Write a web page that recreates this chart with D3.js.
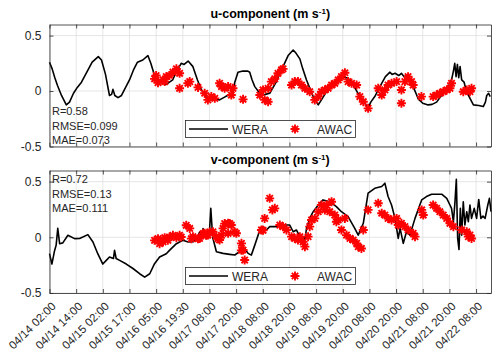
<!DOCTYPE html>
<html>
<head>
<meta charset="utf-8">
<script src="https://cdn.jsdelivr.net/npm/d3@7"></script>
<style>
  body { margin: 0; background: #fff; }
  text { font-family: "Liberation Sans", Arial, sans-serif; }
</style>
</head>
<body>
<div id="chart-area"></div>
<script>

// tick labels on the x axis (one per tick index)
var tickLabels = ["04/14 02:00", "04/14 14:00", "04/15 02:00", "04/15 17:00", "04/16 05:00",
    "04/16 19:30", "04/17 08:00", "04/17 20:00", "04/18 08:00", "04/18 20:00", "04/19 08:00",
    "04/19 20:00", "04/20 08:00", "04/20 20:00", "04/21 08:00", "04/21 20:00", "04/22 08:00"];

var yTicks = [-0.5, 0, 0.5];

// u-component, [tick position, value]
var uWera = [[0,0.26],[0.1,0.2],[0.2,0.12],[0.3,0.05],[0.45,-0.04],[0.63,-0.125],[0.75,-0.1],
    [0.9,-0.02],[1.05,0.035],[1.2,0.08],[1.4,0.17],[1.6,0.26],[1.83,0.31],[1.95,0.28],[2.1,0.15],
    [2.25,-0.04],[2.33,-0.03],[2.38,0.015],[2.45,-0.04],[2.57,-0.06],[2.7,-0.04],[2.85,0.03],
    [3.0,0.1],[3.15,0.19],[3.3,0.26],[3.5,0.28],[3.69,0.32],[3.8,0.25],[3.94,0.14],[4.1,0.09],
    [4.25,0.07],[4.38,0.06],[4.5,0.08],[4.62,0.1],[4.75,0.17],[4.94,0.25],[5.05,0.24],[5.2,0.27],
    [5.38,0.22],[5.55,0.1],[5.7,0.01],[5.94,-0.08],[6.15,-0.07],[6.38,-0.08],[6.6,-0.05],
    [6.88,-0.02],[6.95,0.08],[7.07,0.17],[7.25,0.18],[7.44,0.18],[7.51,0.17],[7.6,0.1],[7.7,0.04],
    [7.95,-0.04],[8.1,-0.03],[8.26,-0.02],[8.5,0.08],[8.76,0.22],[8.95,0.32],[9.14,0.37],
    [9.25,0.34],[9.39,0.29],[9.5,0.2],[9.64,0.1],[9.89,-0.05],[10.08,-0.125],[10.2,-0.08],
    [10.4,0.0],[10.64,0.07],[10.85,0.1],[11.01,0.13],[11.15,0.12],[11.27,0.1],[11.45,0.03],
    [11.64,-0.05],[11.8,-0.1],[11.95,-0.155],[12.05,-0.1],[12.2,-0.05],[12.46,0.07],[12.6,0.13],
    [12.77,0.17],[12.85,0.15],[12.96,0.16],[13.1,0.14],[13.2,0.16],[13.3,0.13],[13.45,0.14],
    [13.64,0.04],[13.83,-0.07],[14.0,-0.11],[14.2,-0.125],[14.35,-0.12],[14.52,-0.1],[14.7,-0.04],
    [14.83,0.01],[15.0,0.06],[15.08,0.1],[15.15,0.18],[15.2,0.25],[15.25,0.13],[15.3,0.24],
    [15.35,0.12],[15.4,0.22],[15.46,0.1],[15.55,0.08],[15.65,-0.01],[15.9,-0.125],[16.1,-0.13],
    [16.27,-0.14],[16.35,-0.1],[16.4,-0.04],[16.47,-0.02],[16.53,-0.05]];

var uAwac = [[3.94,0.11],[4.07,0.075],[4.0,0.14],[4.26,0.1],[4.38,0.13],[4.5,0.14],[4.63,0.17],
    [4.76,0.2],[4.88,0.16],[4.32,0.085],[4.88,0.025],[5.19,0.07],[5.26,0.085],[5.57,0.033],
    [5.82,-0.02],[5.94,-0.08],[6.07,-0.05],[6.2,-0.066],[6.38,0.07],[6.45,0.04],[6.57,0.025],
    [6.7,0.04],[6.88,0.025],[6.82,-0.036],[7.26,-0.075],[7.89,-0.036],[8.07,-0.08],[8.2,-0.096],
    [8.01,0.01],[8.2,0.025],[8.32,0.085],[8.45,0.11],[8.57,0.16],[8.7,0.19],[8.76,0.2],
    [9.08,0.054],[9.2,0.085],[9.32,0.085],[9.45,0.054],[9.58,0.025],[9.76,-0.006],[9.95,-0.08],
    [10.08,-0.05],[10.2,-0.006],[10.33,0.01],[10.45,0.025],[10.58,0.054],[10.7,0.07],[10.83,0.1],
    [10.95,0.13],[11.08,0.165],[11.2,0.085],[11.33,0.07],[11.52,0.054],[11.64,-0.05],
    [11.77,-0.096],[11.95,-0.156],[12.33,0.025],[12.46,-0.036],[12.58,0.01],[12.7,0.054],
    [12.83,0.07],[13.02,0.085],[13.2,0.01],[13.2,-0.11],[13.33,0.085],[13.45,0.13],[13.58,0.085],
    [13.64,0.054],[13.95,-0.05],[14.39,-0.05],[14.52,-0.036],[14.64,-0.02],[14.77,-0.006],
    [14.9,0.01],[15.02,0.025],[15.08,0.07],[15.52,-0.006],[15.65,0.01],[15.77,-0.006],[15.83,0.025]];

// v-component, [tick position, value]
var vWera = [[0,-0.147],[0.09,-0.24],[0.19,-0.12],[0.25,-0.07],[0.31,0.08],[0.38,-0.057],
    [0.5,-0.05],[0.69,0.018],[0.94,-0.012],[1.13,-0.01],[1.44,0.024],[1.63,-0.042],[1.81,-0.147],
    [2.0,-0.24],[2.13,-0.207],[2.25,-0.177],[2.4,-0.19],[2.44,-0.117],[2.5,-0.19],[2.63,-0.207],
    [2.88,-0.24],[3.13,-0.28],[3.38,-0.327],[3.57,-0.357],[3.76,-0.327],[3.94,-0.237],
    [4.13,-0.177],[4.38,-0.147],[4.5,-0.117],[4.76,-0.057],[5.0,-0.027],[5.2,-0.042],[5.4,-0.04],
    [5.55,0.0],[5.63,0.048],[5.7,0.0],[5.76,0.078],[5.88,-0.012],[6.0,0.05],[6.05,0.26],
    [6.12,0.0],[6.26,-0.129],[6.51,-0.144],[6.76,-0.153],[6.95,-0.159],[7.13,-0.129],[7.32,-0.1],
    [7.45,-0.144],[7.57,-0.16],[7.7,-0.07],[7.89,0.066],[8.01,0.096],[8.14,0.066],[8.26,0.096],
    [8.51,0.096],[8.76,0.11],[9.01,0.11],[9.14,0.05],[9.26,0.066],[9.39,0.006],[9.51,0.006],
    [9.58,-0.024],[9.64,0.08],[9.76,0.17],[9.89,0.23],[10.08,0.29],[10.26,0.336],[10.51,0.32],
    [10.76,0.276],[10.95,0.23],[11.2,0.186],[11.45,0.08],[11.58,0.02],[11.77,0.126],[11.95,0.396],
    [12.2,0.44],[12.46,0.456],[12.58,0.486],[12.7,0.366],[12.83,0.29],[12.96,0.17],[13.08,-0.01],
    [13.15,0.08],[13.27,-0.054],[13.39,0.05],[13.52,0.02],[13.71,0.17],[13.89,0.29],[13.96,0.336],
    [14.14,0.366],[14.33,0.387],[14.71,0.387],[14.9,0.35],[15.02,0.29],[15.08,0.26],[15.15,0.14],
    [15.21,0.32],[15.26,0.52],[15.31,-0.01],[15.36,-0.11],[15.41,0.26],[15.46,0.02],[15.52,0.32],
    [15.58,0.11],[15.65,0.23],[15.71,0.14],[15.77,0.29],[15.83,0.17],[15.93,0.26],[16.02,0.17],
    [16.1,0.34],[16.18,0.17],[16.26,0.19],[16.34,0.17],[16.44,0.29],[16.5,0.35],[16.56,0.23]];

var vAwac = [[3.94,-0.027],[4.07,-0.012],[4.13,-0.057],[4.26,-0.042],[4.32,-0.003],[4.44,-0.027],
    [4.5,0.003],[4.63,0.018],[4.76,-0.003],[4.88,0.018],[4.94,0.003],[5.13,0.108],[5.26,0.08],
    [5.32,-0.012],[5.38,0.006],[5.57,-0.012],[5.63,-0.01],[5.76,0.033],[5.82,0.036],[5.88,0.018],
    [5.94,0.02],[6.01,0.048],[6.13,0.05],[6.26,0.006],[6.32,-0.012],[6.38,-0.024],[6.45,0.018],
    [6.51,0.08],[6.57,0.123],[6.7,0.126],[6.7,0.036],[6.76,0.123],[6.82,0.11],[6.95,0.048],
    [7.01,0.036],[7.2,-0.054],[7.2,-0.117],[7.26,-0.114],[7.32,-0.204],[7.95,0.066],[8.01,0.063],
    [8.07,0.17],[8.26,0.35],[8.36,0.246],[8.45,0.26],[8.64,0.11],[8.76,0.096],[8.89,0.066],
    [9.08,0.006],[9.2,-0.01],[9.32,-0.024],[9.39,0.006],[9.51,-0.04],[9.58,-0.084],[9.7,0.006],
    [9.76,0.096],[9.83,0.156],[9.95,0.17],[10.08,0.23],[10.2,0.29],[10.33,0.246],[10.39,0.29],
    [10.51,0.23],[10.58,0.32],[10.7,0.2],[10.76,0.14],[10.83,0.156],[10.95,0.066],[11.08,0.17],
    [11.14,0.02],[11.27,-0.01],[11.39,-0.024],[11.52,-0.054],[11.58,-0.084],[11.7,-0.1],
    [11.77,0.066],[11.95,0.246],[12.33,0.306],[12.46,0.216],[12.58,0.2],[12.7,0.17],[12.83,0.156],
    [13.02,0.17],[13.08,0.11],[13.2,0.126],[13.33,0.096],[13.45,0.066],[13.64,0.036],[13.71,0.006],
    [13.96,0.246],[14.02,0.2],[14.39,0.29],[14.52,0.26],[14.64,0.23],[14.77,0.2],[14.9,0.17],
    [15.02,0.126],[15.15,0.096],[15.46,0.066],[15.65,0.05],[15.71,0.006],[15.77,0.02],[15.83,-0.01]];

var panels = [
    {name: "u-component", wera: uWera, awac: uAwac, stats: ["R=0.58", "RMSE=0.099", "MAE=0.073"],
     top: 24.5, bottom: 146.5, statsY: 115, legendY: 129},
    {name: "v-component", wera: vWera, awac: vAwac, stats: ["R=0.72", "RMSE=0.13", "MAE=0.111"],
     top: 170.5, bottom: 293, statsY: 183, legendY: 276}
];

var width = 500, height = 363;
var left = 49.5, right = 491;
var axisColor = "#262626", gridColor = "#dfdfdf";

var svg = d3.select("#chart-area").append("svg")
    .attr("width", width)
    .attr("height", height);

var x = d3.scaleLinear()
    .domain([0, 16.56])
    .range([left, right]);

// MATLAB style '*' marker
function star(r) {
    var d = r * 0.7071;
    return "M" + (-r) + ",0H" + r + "M0," + (-r) + "V" + r +
        "M" + (-d) + "," + (-d) + "L" + d + "," + d +
        "M" + (-d) + "," + d + "L" + d + "," + (-d);
}

panels.forEach(function(p, pi) {
    var y = d3.scaleLinear()
        .domain([-0.5, 0.6])
        .range([p.bottom, p.top]);

    var g = svg.append("g");

    // grid
    g.selectAll(".xgrid")
        .data(d3.range(tickLabels.length))
        .enter().append("line")
        .attr("x1", function(d) { return x(d); })
        .attr("x2", function(d) { return x(d); })
        .attr("y1", p.top)
        .attr("y2", p.bottom)
        .attr("stroke", gridColor)
        .attr("stroke-width", 0.8);

    g.selectAll(".ygrid")
        .data(yTicks)
        .enter().append("line")
        .attr("x1", left)
        .attr("x2", right)
        .attr("y1", function(d) { return y(d); })
        .attr("y2", function(d) { return y(d); })
        .attr("stroke", gridColor)
        .attr("stroke-width", 0.8);

    // WERA line
    var line = d3.line()
        .x(function(d) { return x(d[0]); })
        .y(function(d) { return y(d[1]); });

    g.append("path")
        .datum(p.wera)
        .attr("d", line)
        .attr("fill", "none")
        .attr("stroke", "#000")
        .attr("stroke-width", 1.6)
        .attr("stroke-linejoin", "round");

    // AWAC markers
    g.selectAll(".awac")
        .data(p.awac)
        .enter().append("path")
        .attr("d", star(4.5))
        .attr("transform", function(d) { return "translate(" + x(d[0]) + "," + y(d[1]) + ")"; })
        .attr("fill", "none")
        .attr("stroke", "#ff0000")
        .attr("stroke-width", 1.9);

    // axes (ticks inside, box on)
    var xAxisB = d3.axisBottom(x).tickValues(d3.range(tickLabels.length))
        .tickSizeInner(-4).tickSizeOuter(0).tickFormat("");
    var xAxisT = d3.axisTop(x).tickValues(d3.range(tickLabels.length))
        .tickSizeInner(-4).tickSizeOuter(0).tickFormat("");
    var yAxisL = d3.axisLeft(y).tickValues(yTicks).tickSizeInner(-4).tickSizeOuter(0)
        .tickPadding(8).tickFormat(function(d) { return d === 0 ? "0" : d; });
    var yAxisR = d3.axisRight(y).tickValues(yTicks).tickSizeInner(-4).tickSizeOuter(0).tickFormat("");

    var axes = [
        g.append("g").attr("transform", "translate(0," + p.bottom + ")").call(xAxisB),
        g.append("g").attr("transform", "translate(0," + p.top + ")").call(xAxisT),
        g.append("g").attr("transform", "translate(" + left + ",0)").call(yAxisL),
        g.append("g").attr("transform", "translate(" + right + ",0)").call(yAxisR)
    ];
    axes.forEach(function(a) {
        a.select(".domain").attr("stroke", axisColor).attr("stroke-width", 0.8);
        a.selectAll(".tick line").attr("stroke", axisColor).attr("stroke-width", 0.8);
        a.selectAll(".tick text").attr("fill", axisColor)
            .style("font-size", "12px").style("font-family", "'Liberation Sans', Arial, sans-serif");
    });

    // title
    var title = g.append("text")
        .attr("x", (left + right) / 2)
        .attr("y", p.top - 7)
        .attr("text-anchor", "middle")
        .attr("fill", "#000")
        .style("font-size", "12.5px")
        .style("font-weight", "bold");
    title.append("tspan").text(p.name + " (m s");
    title.append("tspan").attr("dy", -4).style("font-size", "8px").text("-1");
    title.append("tspan").attr("dy", 4).text(")");

    // stats text
    g.selectAll(".stat")
        .data(p.stats)
        .enter().append("text")
        .attr("x", 52)
        .attr("y", function(d, i) { return p.statsY + i * 14.5; })
        .attr("fill", axisColor)
        .style("font-size", "11px")
        .text(function(d) { return d; });

    // legend
    var lg = g.append("g").attr("transform", "translate(0," + p.legendY + ")");
    lg.append("rect")
        .attr("x", 185.5).attr("y", -8.5)
        .attr("width", 170).attr("height", 17)
        .attr("fill", "#fff")
        .attr("stroke", axisColor)
        .attr("stroke-width", 0.8);
    lg.append("line")
        .attr("x1", 189).attr("x2", 228)
        .attr("y1", 0).attr("y2", 0)
        .attr("stroke", "#000").attr("stroke-width", 1.6);
    lg.append("text")
        .attr("x", 232).attr("y", 4.5)
        .attr("fill", axisColor)
        .style("font-size", "12px")
        .text("WERA");
    lg.append("path")
        .attr("d", star(4.5))
        .attr("transform", "translate(295,0)")
        .attr("fill", "none").attr("stroke", "#ff0000").attr("stroke-width", 1.9);
    lg.append("text")
        .attr("x", 317).attr("y", 4.5)
        .attr("fill", axisColor)
        .style("font-size", "12px")
        .text("AWAC");

    // rotated date labels under the lower panel
    if (pi === 1) {
        g.selectAll(".xlab")
            .data(tickLabels)
            .enter().append("text")
            .attr("transform", function(d, i) {
                return "translate(" + (x(i) + 7) + "," + (p.bottom + 14) + ") rotate(-45)";
            })
            .attr("text-anchor", "end")
            .attr("fill", axisColor)
            .style("font-size", "11.5px")
            .text(function(d) { return d; });
    }
});

</script>
</body>
</html>
